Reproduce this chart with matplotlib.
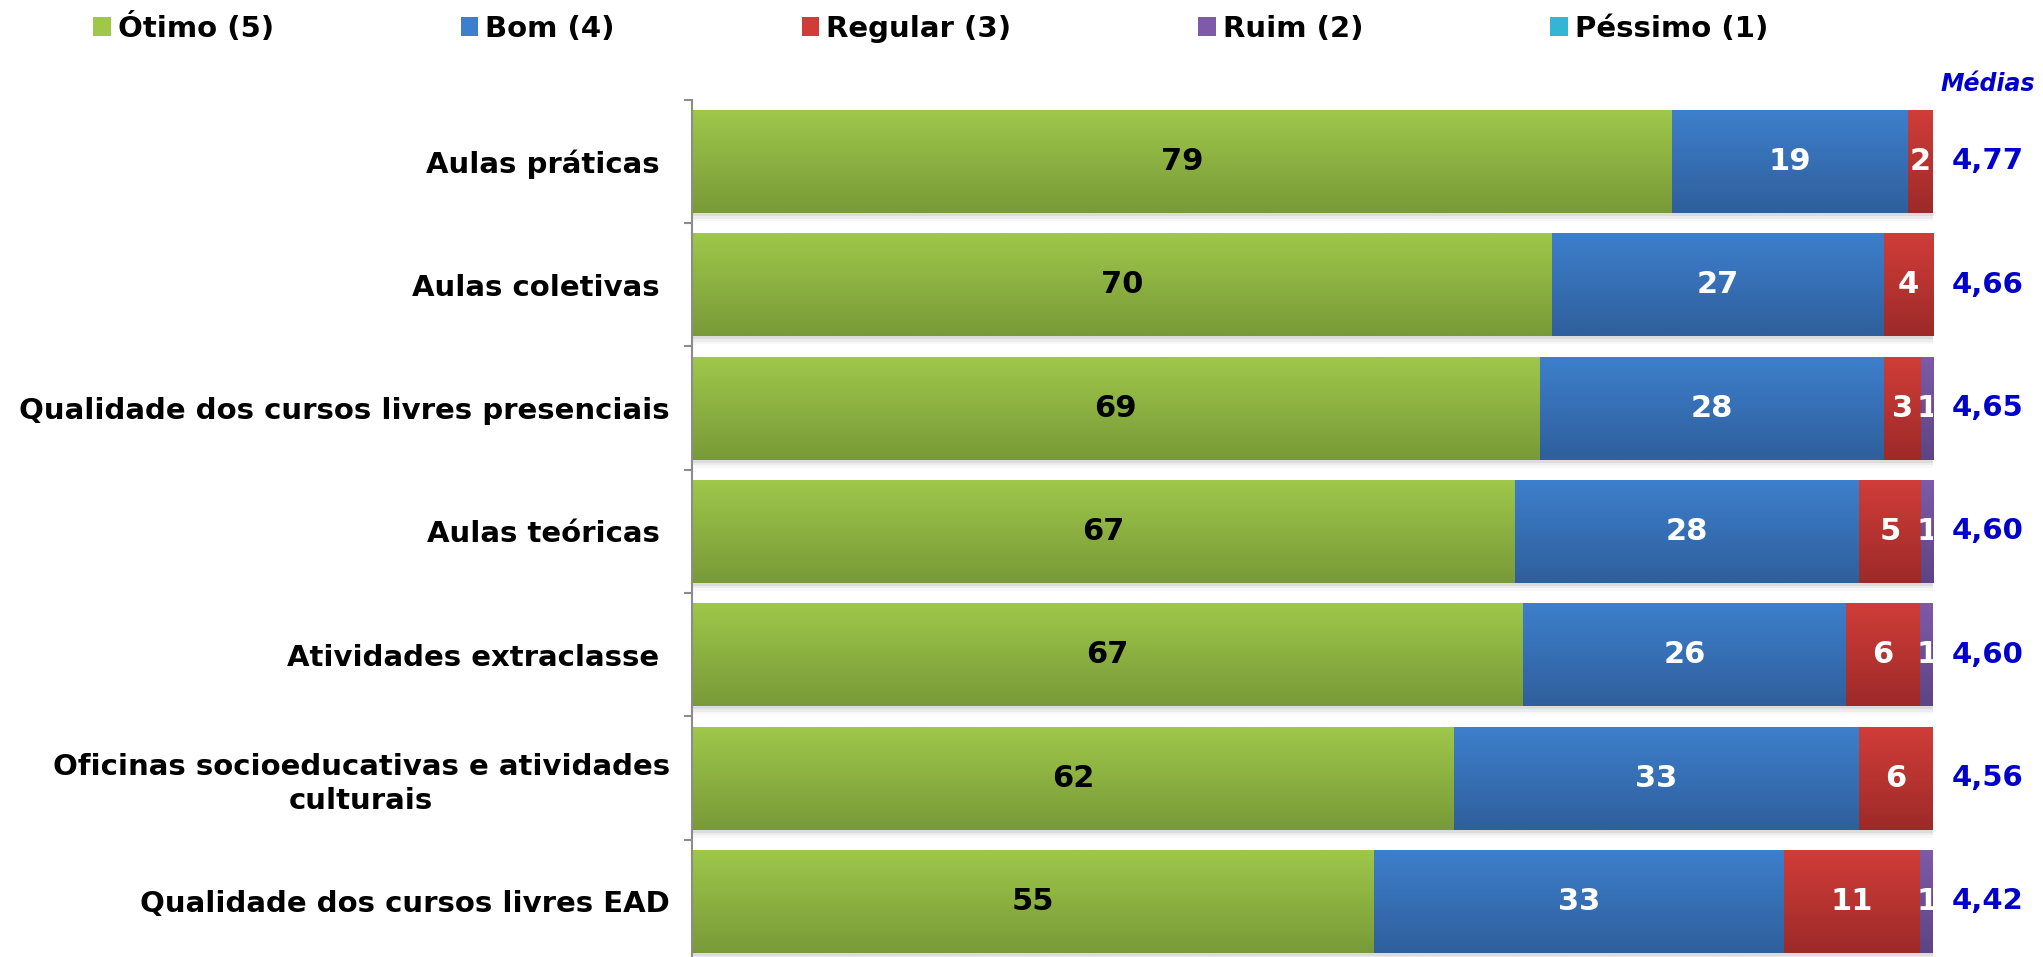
import numpy as np
from matplotlib import pyplot as plt
from matplotlib.patches import Patch
from matplotlib.colors import to_rgb
from matplotlib.transforms import blended_transform_factory

categories = ["Aulas práticas ", "Aulas coletivas ",
              "Qualidade dos cursos livres presenciais", "Aulas teóricas ",
              "Atividades extraclasse ",
              "Oficinas socioeducativas e atividades\nculturais",
              "Qualidade dos cursos livres EAD"]
series = ["Ótimo (5)", "Bom (4)", "Regular (3)", "Ruim (2)", "Péssimo (1)"]
otimo = [79, 70, 69, 67, 67, 62, 55]
bom = [19, 27, 28, 28, 26, 33, 33]
regular = [2, 4, 3, 5, 6, 6, 11]
ruim = [0, 0, 1, 1, 1, 0, 1]
pessimo = [0, 0, 0, 0, 0, 0, 0]
medias = ["4,77", "4,66", "4,65", "4,60", "4,60", "4,56", "4,42"]

# gradient colours (top, bottom) per series
grad = [("#9fc74a", "#789a38"), ("#3d7fcc", "#2f5f9c"), ("#d03d38", "#9d2a29"),
        ("#7e5aa8", "#5d4484"), ("#33b5d4", "#22829b")]
label_colors = ["black", "white", "white", "white", "white"]

plt.rcParams['font.family'] = ['DejaVu Sans']
fig = plt.figure(figsize=(20.43, 9.57), dpi=100)
ax = fig.add_axes([0.3387, -0.0063, 0.6074, 0.902])

data = np.array([otimo, bom, regular, ruim, pessimo], dtype=float)
totals = data.sum(axis=0)
pct = data / totals * 100
y = np.arange(len(categories))
h = 0.835

# soft shadow under each bar
for k, a in enumerate([0.10, 0.07, 0.04]):
    ax.barh(y + 0.025 + k * 0.02, 100.4, height=h, left=0, color="#555555",
            alpha=a, zorder=1, linewidth=0)

left = np.zeros(len(categories))
for s in range(len(series)):
    c0, c1 = np.array(to_rgb(grad[s][0])), np.array(to_rgb(grad[s][1]))
    g = np.linspace(0, 1, 64)[:, None, None]
    img = c0 * (1 - g) + c1 * g
    for i in range(len(categories)):
        w = pct[s, i]
        if data[s, i] == 0:
            continue
        bar = ax.barh(y[i], w, height=h, left=left[i], color=grad[s][0],
                      linewidth=0, zorder=2)[0]
        im = ax.imshow(img, extent=(left[i], left[i] + w, y[i] + h / 2, y[i] - h / 2),
                       aspect='auto', zorder=3, origin='upper')
        im.set_clip_path(bar)
        ax.text(left[i] + w / 2, y[i], "%d" % data[s, i], ha='center', va='center',
                fontsize=22, fontweight='bold', color=label_colors[s], zorder=4,
                clip_on=True)
    left += pct[s]

ax.set_xlim(0, 100)
ax.set_ylim(len(categories) - 0.5, -0.5)
ax.set_yticks(y)
ax.set_yticklabels(categories, fontsize=21, fontweight='bold', multialignment='center',
                   linespacing=1.25)
ax.tick_params(axis='y', which='major', length=0, pad=16)
ax.set_yticks(np.arange(len(categories) + 1) - 0.5, minor=True)
ax.tick_params(axis='y', which='minor', length=6, width=1.5, color="#8c8c8c",
               direction='out')
ax.set_xticks([])
for sp in ['top', 'right', 'bottom']:
    ax.spines[sp].set_visible(False)
ax.spines['left'].set_color("#8c8c8c")
ax.spines['left'].set_linewidth(1.5)
ax.spines['left'].set_zorder(5)

tr = blended_transform_factory(ax.transAxes, ax.transData)
for i, m in enumerate(medias):
    ax.text(1.044, y[i], m, transform=tr, ha='center', va='center', fontsize=21,
            fontweight='bold', color="#0000cc", clip_on=False)
fig.text(1988 / 2043, 1 - 84 / 957, "Médias", ha='center', va='center', fontsize=17,
         fontweight='bold', fontstyle='italic', color="#0000cc")

handles = [Patch(facecolor=grad[s][0], edgecolor='none') for s in range(len(series))]
fig.legend(handles, series, loc='center left', bbox_to_anchor=(93 / 2043, 1 - 28 / 957),
           ncol=5, frameon=False, borderpad=0, borderaxespad=0,
           handlelength=0.6, handleheight=0.6, handletextpad=0.25, columnspacing=6.4,
           prop={'size': 21, 'weight': 'bold'})

plt.savefig("out.png", dpi=100)
